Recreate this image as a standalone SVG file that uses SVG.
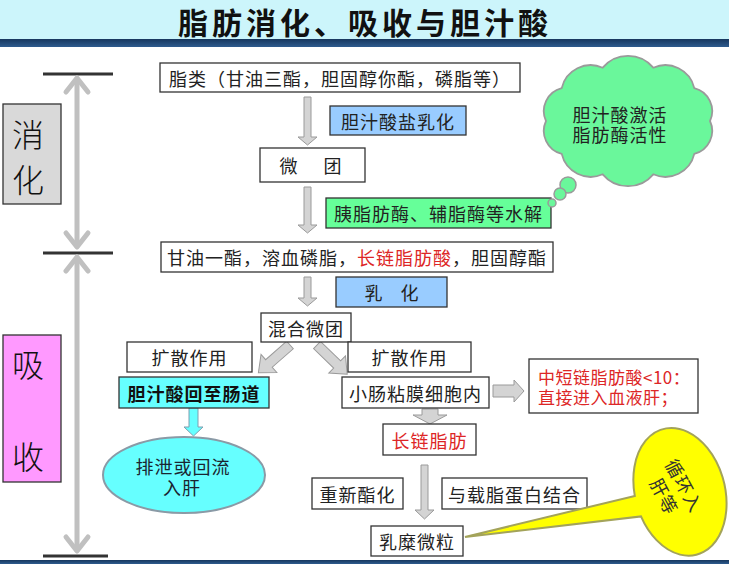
<svg xmlns="http://www.w3.org/2000/svg" width="729" height="564" viewBox="0 0 729 564">
<style>
  text { font-family: "Noto Sans CJK SC", "Noto Sans", sans-serif; dominant-baseline: central; }
  .t { font-size: 18px; fill: #222; letter-spacing: 1px; text-anchor: middle; }
  .red { fill: #dd2626; }
  .box { fill: #ffffff; stroke: #333333; stroke-width: 1.3; }
  .blue { fill: #99ccff; stroke: #333333; stroke-width: 1.3; }
  .green { fill: #66ff99; stroke: #333333; stroke-width: 1.3; }
  .cyan { fill: #66ffff; stroke: #333333; stroke-width: 1.3; }
  .garrow { fill: #d4d4d4; stroke: #9a9a9a; stroke-width: 1; }
  .carrow { fill: #66ffff; stroke: #7f9fb0; stroke-width: 1; }
  .dbl { fill: none; stroke: #c0c0c0; stroke-width: 5; stroke-linecap: round; stroke-linejoin: round; }
  .bar { stroke: #333333; stroke-width: 3; }
  .side { font-size: 32px; font-weight: 300; fill: #111; text-anchor: middle; }
</style>
<defs>
  <linearGradient id="band" x1="0" y1="0" x2="0" y2="1">
    <stop offset="0" stop-color="#17375e"/>
    <stop offset="1" stop-color="#2e5b8e"/>
  </linearGradient>
</defs>

<g id="background">
  <rect x="0" y="0" width="729" height="564" fill="#ffffff"/>
  <rect x="0" y="0" width="729" height="39" fill="#ccf5fb"/>
  <rect x="0" y="39" width="729" height="8" fill="url(#band)"/>
  <rect x="0" y="560" width="729" height="4" fill="url(#band)"/>
  <text x="365" y="21" style="font-size:30px;font-weight:bold;fill:#111;letter-spacing:4px;text-anchor:middle">脂肪消化、吸收与胆汁酸</text>
</g>

<g id="stage-brackets">
  <line class="bar" x1="43" y1="74" x2="113" y2="74"/>
  <line class="bar" x1="43" y1="253" x2="113" y2="253"/>
  <line class="bar" x1="43" y1="556" x2="108" y2="556"/>
  <line class="dbl" x1="77" y1="79" x2="77" y2="246"/>
  <polyline class="dbl" points="66,92 77,78 88,92"/>
  <polyline class="dbl" points="66,233 77,247 88,233"/>
  <line class="dbl" x1="77" y1="259" x2="77" y2="550"/>
  <polyline class="dbl" points="66,271 77,257 88,271"/>
  <polyline class="dbl" points="66,537 77,551 88,537"/>
</g>

<g id="label-digestion">
  <rect x="3" y="104" width="58" height="100" fill="#d9d9d9" stroke="#333" stroke-width="1.3"/>
  <text class="side" x="28" y="133">消</text>
  <text class="side" x="28" y="178">化</text>
</g>
<g id="label-absorption">
  <rect x="3" y="335" width="58" height="147" fill="#ff99ff" stroke="#333" stroke-width="1.3"/>
  <text class="side" x="28" y="363">吸</text>
  <text class="side" x="28" y="455">收</text>
</g>

<g id="connectors">
  <path class="garrow" d="M304 97 H311 V137 H317 L307.5 145 L298 137 H304 Z"/>
  <path class="garrow" d="M304 187 H311 V225 H317 L307.5 233 L298 225 H304 Z"/>
  <path class="garrow" d="M304 277 H311 V298 H317 L307.5 306 L298 298 H304 Z"/>
  <path class="garrow" d="M-5 0 H5 V28 H12 L0 42 L-12 28 H-5 Z" transform="translate(290,345) rotate(48.8)"/>
  <path class="garrow" d="M-5 0 H5 V28 H12 L0 42 L-12 28 H-5 Z" transform="translate(317,345) rotate(-46)"/>
  <path class="carrow" d="M189 408 H198 V427 H203 L193.5 436 L184 427 H189 Z"/>
  <path class="garrow" d="M493 385 H514 V380 L524 391 L514 402 V397 H493 Z"/>
  <path class="garrow" d="M422 409 H438 V415 H447 L430 424 L413 415 H422 Z"/>
  <path class="garrow" d="M421 465 H428 V510 H434 L424.5 519 L415 510 H421 Z"/>
</g>

<g id="n-lipids">
  <rect class="box" x="160" y="63" width="360" height="29"/>
  <text class="t" x="340" y="77.5">脂类（甘油三酯，胆固醇你酯，磷脂等）</text>
</g>
<g id="n-bile-emulsify">
  <rect class="blue" x="330" y="106" width="136" height="29"/>
  <text class="t" x="398" y="120.5">胆汁酸盐乳化</text>
</g>
<g id="n-micelle">
  <rect class="box" x="260" y="148" width="105" height="34"/>
  <text class="t" x="312.5" y="165" style="letter-spacing:4px">微　团</text>
</g>
<g id="n-lipase">
  <rect class="green" x="326" y="198" width="225" height="30"/>
  <text class="t" x="438.5" y="213">胰脂肪酶、辅脂酶等水解</text>
</g>
<g id="n-cloud">
  <path d="M546 121 A23.7 23.7 0 0 1 561.7 88.1 A29.8 29.8 0 0 1 602.7 67.7 A32.9 32.9 0 0 1 653.3 67.7 A29.8 29.8 0 0 1 694.3 88.1 A23.7 23.7 0 0 1 710 121 A23.7 23.7 0 0 1 694.3 153.9 A29.8 29.8 0 0 1 653.3 174.3 A32.9 32.9 0 0 1 602.7 174.3 A29.8 29.8 0 0 1 561.7 153.9 A23.7 23.7 0 0 1 546 121 Z" fill="#6af79b" stroke="#9a9a9a" stroke-width="1.8"/>
  <circle cx="568" cy="185" r="8" fill="#6af79b" stroke="#9a9a9a" stroke-width="1.5"/>
  <circle cx="560" cy="194" r="6" fill="#6af79b" stroke="#9a9a9a" stroke-width="1.5"/>
  <circle cx="552" cy="203" r="4" fill="#6af79b" stroke="#9a9a9a" stroke-width="1.5"/>
  <text class="t" x="620" y="114">胆汁酸激活<tspan x="620" dy="20">脂肪酶活性</tspan></text>
</g>
<g id="n-products">
  <rect class="box" x="161" y="242" width="392" height="30"/>
  <text class="t" x="357" y="257">甘油一酯，溶血磷脂，<tspan class="red">长链脂肪酸</tspan>，胆固醇酯</text>
</g>
<g id="n-emulsify">
  <rect class="blue" x="336" y="277" width="111" height="30"/>
  <text class="t" x="391.5" y="292" style="letter-spacing:0px">乳　化</text>
</g>
<g id="n-mixed-micelle">
  <rect class="box" x="261" y="313" width="90" height="29"/>
  <text class="t" x="306" y="327.5">混合微团</text>
</g>
<g id="n-diffuse-left">
  <rect class="box" x="127" y="342" width="125" height="30"/>
  <text class="t" x="189.5" y="357">扩散作用</text>
</g>
<g id="n-diffuse-right">
  <rect class="box" x="348" y="342" width="123" height="30"/>
  <text class="t" x="409.5" y="357">扩散作用</text>
</g>
<g id="n-bile-return">
  <rect class="cyan" x="119" y="377" width="150" height="31"/>
  <text class="t" x="194" y="392.5" style="font-weight:bold;fill:#111">胆汁酸回至肠道</text>
</g>
<g id="n-excrete">
  <ellipse cx="184" cy="475" rx="81" ry="38" fill="#66ffff" stroke="#8a9aa6" stroke-width="2"/>
  <text class="t" x="183" y="466" style="fill:#1a2530">排泄或回流<tspan x="182" dy="21">入肝</tspan></text>
</g>
<g id="n-mucosa">
  <rect class="box" x="342" y="377" width="147" height="31"/>
  <text class="t" x="415.5" y="392.5">小肠粘膜细胞内</text>
</g>
<g id="n-short-chain">
  <rect class="box" x="529" y="359" width="169" height="54"/>
  <text class="red" x="538" y="376" style="font-size:17px;letter-spacing:0.5px">中短链脂肪酸&lt;10：<tspan x="538" dy="20">直接进入血液肝；</tspan></text>
</g>
<g id="n-long-chain">
  <rect class="box" x="383" y="424" width="93" height="31"/>
  <text class="t red" x="429.5" y="439.5">长链脂肪</text>
</g>
<g id="n-reester">
  <rect class="box" x="312" y="478" width="91" height="31"/>
  <text class="t" x="357.5" y="493.5">重新酯化</text>
</g>
<g id="n-apoprotein">
  <rect class="box" x="442" y="478" width="145" height="31"/>
  <text class="t" x="514.5" y="493.5">与载脂蛋白结合</text>
</g>
<g id="n-chylomicron">
  <rect class="box" x="371" y="526" width="92" height="30"/>
  <text class="t" x="417" y="541">乳糜微粒</text>
</g>
<g id="n-callout">
  <path d="M465 537 L634.8 495.9 A45 65 -15 1 1 641 516.4 Z" fill="#ffff00" stroke="#a3a35a" stroke-width="2"/>
  <g transform="translate(675,490.5) rotate(61.6)">
    <text class="t" x="0" y="-11.3" style="fill:#333;letter-spacing:1px">循环入<tspan x="0" dy="22.6">肝等</tspan></text>
  </g>
</g>
</svg>
